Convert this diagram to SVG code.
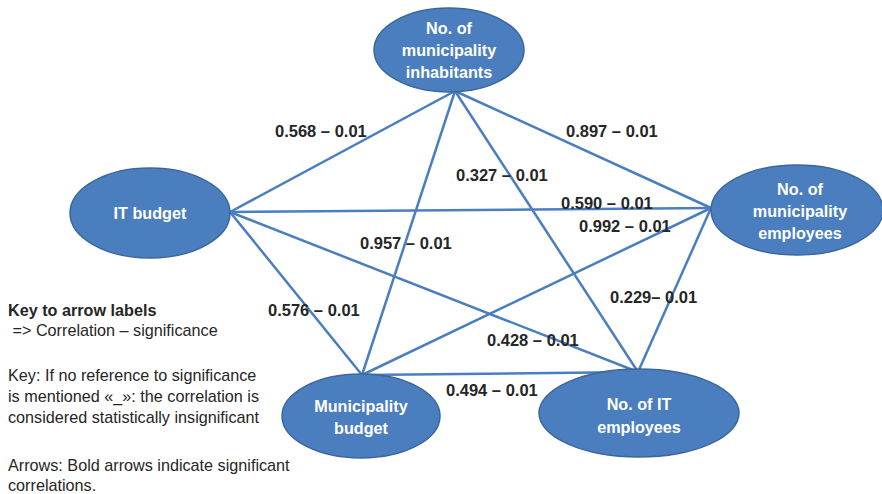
<svg xmlns="http://www.w3.org/2000/svg" width="882" height="494" viewBox="0 0 882 494">
<style>
.node{fill:#4a7ebf;stroke:#3b679c;stroke-width:1.5}
.nt{font-family:"Liberation Sans",Arial,sans-serif;font-weight:bold;font-size:16.2px;fill:#ffffff;text-anchor:middle}
.edge{stroke:#4a7ebf;stroke-width:2.5;fill:none}
.lbl{font-family:"Liberation Sans",Arial,sans-serif;font-weight:bold;font-size:16.5px;fill:#262626}
.key{font-family:"Liberation Sans",Arial,sans-serif;font-size:16.2px;fill:#262626}
</style>
<rect width="882" height="494" fill="#ffffff"/>
<g id="connectors">
<line class="edge" x1="455" y1="91" x2="230" y2="212"/>
<line class="edge" x1="455" y1="91" x2="711" y2="208"/>
<line class="edge" x1="455" y1="91" x2="362" y2="375"/>
<line class="edge" x1="455" y1="91" x2="638" y2="372"/>
<line class="edge" x1="230" y1="212" x2="711" y2="208"/>
<line class="edge" x1="230" y1="212" x2="362" y2="375"/>
<line class="edge" x1="230" y1="212" x2="638" y2="372"/>
<line class="edge" x1="711" y1="208" x2="362" y2="375"/>
<line class="edge" x1="711" y1="208" x2="638" y2="372"/>
<line class="edge" x1="362" y1="375" x2="638" y2="372"/>
</g>
<g id="node-inhabitants">
<ellipse class="node" cx="449" cy="50" rx="75" ry="42"/>
<text class="nt" x="449" y="34">No. of</text>
<text class="nt" x="449" y="56">municipality</text>
<text class="nt" x="449" y="78">inhabitants</text>
</g>
<g id="node-itbudget">
<ellipse class="node" cx="150" cy="213" rx="80" ry="45"/>
<text class="nt" x="150" y="219">IT budget</text>
</g>
<g id="node-employees">
<ellipse class="node" cx="797" cy="210" rx="86" ry="45"/>
<text class="nt" x="800" y="195">No. of</text>
<text class="nt" x="800" y="217">municipality</text>
<text class="nt" x="800" y="239">employees</text>
</g>
<g id="node-mbudget">
<ellipse class="node" cx="361" cy="416" rx="79" ry="42"/>
<text class="nt" x="361" y="412">Municipality</text>
<text class="nt" x="361" y="434">budget</text>
</g>
<g id="node-itemployees">
<ellipse class="node" cx="639" cy="413" rx="100" ry="44"/>
<text class="nt" x="639" y="410">No. of IT</text>
<text class="nt" x="639" y="433">employees</text>
</g>
<g id="labels">
<text class="lbl" x="275" y="137">0.568 – 0.01</text>
<text class="lbl" x="566" y="137">0.897 – 0.01</text>
<text class="lbl" x="456" y="181">0.327 – 0.01</text>
<text class="lbl" x="561" y="209">0.590 – 0.01</text>
<text class="lbl" x="579" y="232">0.992 – 0.01</text>
<text class="lbl" x="360" y="249">0.957 – 0.01</text>
<text class="lbl" x="268" y="316">0.576 – 0.01</text>
<text class="lbl" x="610" y="303">0.229– 0.01</text>
<text class="lbl" x="487" y="346">0.428 – 0.01</text>
<text class="lbl" x="446" y="396">0.494 – 0.01</text>
</g>
<g id="legend">
<text class="key" x="8" y="316" font-weight="bold">Key to arrow labels</text>
<text class="key" x="8" y="336" xml:space="preserve"> =&gt; Correlation – significance</text>
<text class="key" x="8" y="381">Key: If no reference to significance</text>
<text class="key" x="8" y="402">is mentioned «_»: the correlation is</text>
<text class="key" x="8" y="423">considered statistically insignificant</text>
<text class="key" x="8" y="471">Arrows: Bold arrows indicate significant</text>
<text class="key" x="8" y="491">correlations.</text>
</g>
</svg>
